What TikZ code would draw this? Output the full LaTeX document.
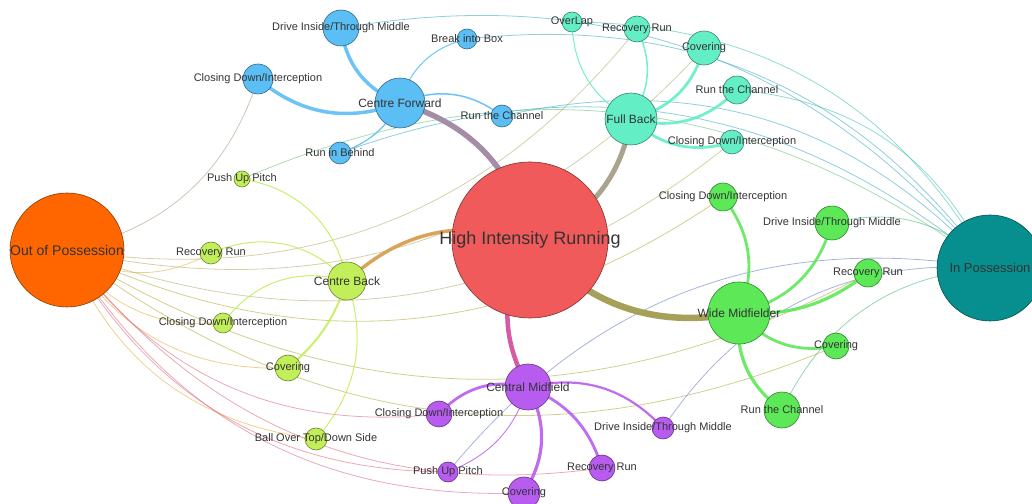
\documentclass[tikz,border=0pt]{standalone}
\usepackage{fontspec}
\setmainfont{Liberation Sans}
\usepackage{tikz}
\usetikzlibrary{calc}
\usetikzlibrary{shapes}
\usetikzlibrary{backgrounds}

\definecolor{hirRed}{HTML}{F05A5A}
\definecolor{opOrange}{HTML}{FF6600}
\definecolor{ipTeal}{HTML}{078E8E}
\definecolor{cfBlue}{HTML}{5BBEF4}
\definecolor{fbAqua}{HTML}{63EEC5}
\definecolor{wmGreen}{HTML}{5DE858}
\definecolor{cbLime}{HTML}{C2EE5A}
\definecolor{cmPurple}{HTML}{B85CF0}
\definecolor{labelGrey}{HTML}{333333}

\begin{document}
\begin{tikzpicture}[x=1pt,y=1pt,
    dot/.style={circle, inner sep=0pt, outer sep=0pt, line width=0.6pt},
    lab/.style={text=labelGrey, inner sep=0pt},
    link/.style={line cap=round}]
      \useasboundingbox (0,0) rectangle (1032,503);
      \foreach \n/\x/\y/\r/\c in {
          hir/530/263/78/hirRed, op/67/253/57/opOrange, ip/990/235/53/ipTeal,
          cf/400/400/25/cfBlue, fb/631/384/26/fbAqua, wm/739/190/31/wmGreen,
          cb/347/222/19/cbLime, cm/528/116/23/cmPurple,
          cfDrive/341/475/18/cfBlue, cfBox/467/464/10/cfBlue, cfClose/258/424/15/cfBlue,
          cfChannel/502/387/11/cfBlue, cfBehind/340/350/11/cfBlue,
          fbOverlap/572/481/10/fbAqua, fbRecovery/637/474/13/fbAqua, fbCovering/704/455/17/fbAqua,
          fbChannel/737/413/14/fbAqua, fbClose/732/361/12/fbAqua,
          wmClose/723/306/14/wmGreen, wmDrive/832/280/17/wmGreen, wmRecovery/868/230/14/wmGreen,
          wmCovering/836/157/13/wmGreen, wmChannel/782/93/18/wmGreen,
          cbPush/242/324/8/cbLime, cbRecovery/211/250/11/cbLime, cbClose/223/180/10/cbLime,
          cbCovering/288/135/13/cbLime, cbBall/316/64/11/cbLime,
          cmClose/439/89/13/cmPurple, cmPush/448/31/10/cmPurple, cmCovering/524/10/16/cmPurple,
          cmRecovery/602/35/13/cmPurple, cmDrive/663/75/11/cmPurple} {
        \node[dot, fill=\c, draw=\c!55!black, minimum size=2*\r] (\n) at (\x,\y) {};
      }
      \begin{scope}[on background layer]
        \foreach \a/\c in {cfDrive/cfBlue, cfBox/cfBlue, cfChannel/cfBlue, cfBehind/cfBlue,
            fbOverlap/fbAqua, fbChannel/fbAqua, cbPush/cbLime, wmDrive/wmGreen,
            wmChannel/wmGreen, cmDrive/cmPurple, cmPush/cmPurple} {
          \draw[link, draw=\c!50!ipTeal, line width=0.8pt, draw opacity=0.55] (\a.center) to[bend left=30] (ip.center);
        }
        \foreach \a/\c in {cfClose/cfBlue, cbRecovery/cbLime, cbClose/cbLime, cbCovering/cbLime,
            cbBall/cbLime, fbRecovery/fbAqua, fbCovering/fbAqua, fbClose/fbAqua, wmClose/wmGreen,
            wmRecovery/wmGreen, wmCovering/wmGreen, cmClose/cmPurple, cmPush/cmPurple,
            cmCovering/cmPurple, cmRecovery/cmPurple} {
          \draw[link, draw=\c!50!opOrange, line width=0.8pt, draw opacity=0.55] (\a.center) to[bend left=30] (op.center);
        }
        \foreach \r/\c/\w in {cf/cfBlue/5.5, fb/fbAqua/5, wm/wmGreen/6.5, cb/cbLime/3.5, cm/cmPurple/4.5} {
          \draw[link, draw=\c!50!hirRed, line width=\w pt] (\r.center) to[bend left=30] (hir.center);
        }
        \foreach \r/\s/\c/\w/\b in {
            cf/cfDrive/cfBlue/3.5/30, cf/cfClose/cfBlue/3.5/30, cf/cfBox/cfBlue/1/30,
            cf/cfChannel/cfBlue/1.5/30, cf/cfBehind/cfBlue/1.2/20,
            fb/fbOverlap/fbAqua/1/30, fb/fbRecovery/fbAqua/1.5/-30, fb/fbCovering/fbAqua/2.8/-30,
            fb/fbChannel/fbAqua/2.8/-30, fb/fbClose/fbAqua/2.8/-30,
            wm/wmClose/wmGreen/2.8/-30, wm/wmDrive/wmGreen/2.8/-30, wm/wmRecovery/wmGreen/3.2/-20,
            wm/wmCovering/wmGreen/2.8/-30, wm/wmChannel/wmGreen/3.2/-30,
            cb/cbPush/cbLime/1/-35, cb/cbRecovery/cbLime/1/-35, cb/cbClose/cbLime/1/-35,
            cb/cbCovering/cbLime/2/15, cb/cbBall/cbLime/1/30,
            cm/cmClose/cmPurple/2.8/-30, cm/cmPush/cmPurple/0.8/25, cm/cmCovering/cmPurple/3.2/30,
            cm/cmRecovery/cmPurple/2.8/25, cm/cmDrive/cmPurple/2.2/30} {
          \draw[link, draw=\c, line width=\w pt, draw opacity=0.9] (\r.center) to[bend left=\b] (\s.center);
        }
      \end{scope}
      \foreach \n/\s/\t in {
          hir/18/High Intensity Running, op/14/Out of Possession, ip/13/In Possession,
          cf/12/Centre Forward, fb/12/Full Back, wm/12/Wide Midfielder,
          cb/12/Centre Back, cm/12/Central Midfield,
          cfDrive/11/{Drive Inside/Through Middle}, cfBox/11/Break into Box,
          cfClose/11/{Closing Down/Interception}, cfChannel/11/Run the Channel,
          cfBehind/11/Run in Behind,
          fbOverlap/11/OverLap, fbRecovery/11/Recovery Run, fbCovering/11/Covering,
          fbChannel/11/Run the Channel, fbClose/11/{Closing Down/Interception},
          wmClose/11/{Closing Down/Interception}, wmDrive/11/{Drive Inside/Through Middle},
          wmRecovery/11/Recovery Run, wmCovering/11/Covering, wmChannel/11/Run the Channel,
          cbPush/11/Push Up Pitch, cbRecovery/11/Recovery Run,
          cbClose/11/{Closing Down/Interception}, cbCovering/11/Covering,
          cbBall/11/{Ball Over Top/Down Side},
          cmClose/11/{Closing Down/Interception}, cmPush/11/Push Up Pitch,
          cmCovering/11/Covering, cmRecovery/11/Recovery Run,
          cmDrive/11/{Drive Inside/Through Middle}} {
        \node[lab, font=\fontsize{\s}{\s}\selectfont] (\n-t) at (\n) {\t};
      }
\end{tikzpicture}
\end{document}
